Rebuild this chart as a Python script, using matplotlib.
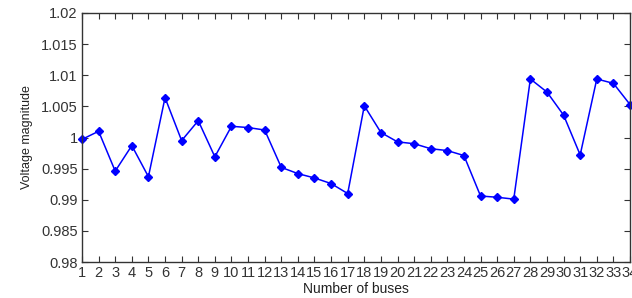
import matplotlib.pyplot as plt
import numpy as np

plt.rcParams['font.family'] = ['Liberation Sans', 'DejaVu Sans']

buses = np.arange(1, 35)
voltage = [0.9997, 1.0010, 0.9946, 0.9987, 0.9937, 1.0064, 0.9995, 1.0027,
           0.9969, 1.0018, 1.0016, 1.0012, 0.9952, 0.9942, 0.9935, 0.9926,
           0.9910, 1.0051, 1.0008, 0.9993, 0.9990, 0.9982, 0.9979, 0.9971,
           0.9906, 0.9904, 0.9901, 1.0094, 1.0073, 1.0036, 0.9972, 1.0094,
           1.0087, 1.0053]
yticks = [0.98, 0.985, 0.99, 0.995, 1.0, 1.005, 1.01, 1.015, 1.02]
ytick_labels = ['0.98', '0.985', '0.99', '0.995', '1', '1.005', '1.01', '1.015', '1.02']

fig = plt.figure(figsize=(6.32, 2.98), dpi=100)
ax = fig.add_axes([82/632, 1 - 262/298, 548/632, 249/298])

ax.plot(buses, voltage, color='#0000ff', lw=1.1, marker='D', ms=4,
        mfc='#0000ff', mec='#0000ff', clip_on=False)

ax.set_xlim(1, 34)
ax.set_ylim(0.98, 1.02)
ax.set_xticks(buses)
ax.set_yticks(yticks)
ax.set_yticklabels(ytick_labels)
ax.tick_params(direction='in', top=True, right=True, length=4, labelsize=10.5,
               colors='#333333', pad=3)
for s in ax.spines.values():
    s.set_color('#333333')
    s.set_linewidth(1)

ax.set_xlabel('Number of buses', fontsize=10, labelpad=1, color='#222222')
ax.set_ylabel('Voltage magnitude', fontsize=9, labelpad=6, color='#222222')

fig.savefig('out.png', dpi=100)
